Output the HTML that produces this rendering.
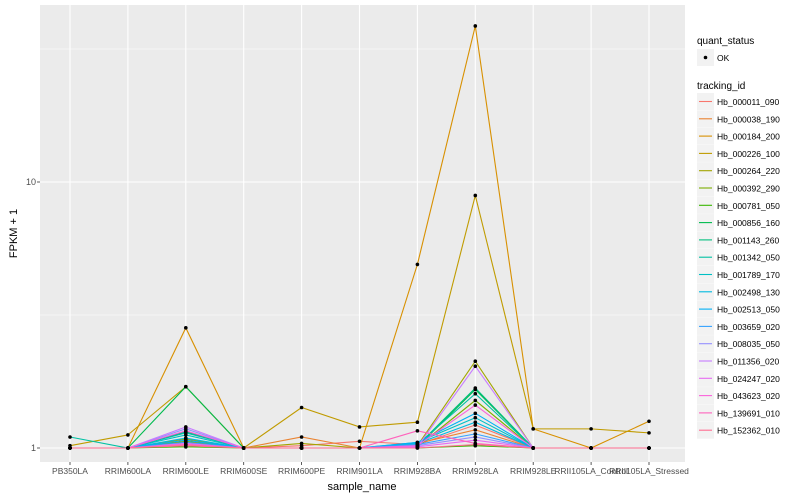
<!DOCTYPE html>
<html><head><meta charset="utf-8"><style>
body{margin:0;background:#fff;font-family:"Liberation Sans",sans-serif;}
svg{display:block}
</style></head><body>
<svg id="chart" width="800" height="500" xmlns="http://www.w3.org/2000/svg" font-family="Liberation Sans, sans-serif"></svg>
<script>
const categories=["PB350LA","RRIM600LA","RRIM600LE","RRIM600SE","RRIM600PE","RRIM901LA","RRIM928BA","RRIM928LA","RRIM928LE","RRII105LA_Control","RRII105LA_Stressed"];
const trackingIds=["Hb_000011_090","Hb_000038_190","Hb_000184_200","Hb_000226_100","Hb_000264_220","Hb_000392_290","Hb_000781_050","Hb_000856_160","Hb_001143_260","Hb_001342_050","Hb_001789_170","Hb_002498_130","Hb_002513_050","Hb_003659_020","Hb_008035_050","Hb_011356_020","Hb_024247_020","Hb_043623_020","Hb_139691_010","Hb_152362_010"];
const seriesColors=["#F8766D","#EA8331","#D89000","#C09B00","#A3A500","#7CAE00","#39B600","#00BB4E","#00BF7D","#00C1A3","#00BFC4","#00BAE0","#00B0F6","#35A2FF","#9590FF","#C77CFF","#E76BF3","#FA62DB","#FF62BC","#FF6C91"];
const s01=[1,1,1.03,1,1.02,1.06,1.03,1.22,1,1,1];
const s02=[1,1,1.05,1,1.1,1,1.04,1.17,1,1,1];
const s03=[1,1,2.83,1,1,1,4.9,38.6,1.18,1,1.26];
const s04=[1.02,1.12,1.7,1,1.42,1.2,1.25,8.9,1.18,1.18,1.14];
const s05=[1,1,1.08,1,1.04,1,1.02,2.12,1,1,1];
const s06=[1,1,1.06,1,1,1,1.01,1.51,1,1,1];
const s07=[1,1,1.01,1,1,1,1,1.02,1,1,1];
const s08=[1,1,1.7,1,1,1,1.01,1.66,1,1,1];
const s09=[1,1,1.15,1,1,1,1.02,1.68,1,1,1];
const s10=[1.1,1,1.14,1,1,1,1.03,1.6,1,1,1];
const s11=[1,1,1.12,1,1,1,1.05,1.3,1,1,1];
const s12=[1,1,1.09,1,1,1,1.04,1.25,1,1,1];
const s13=[1,1,1.07,1,1,1,1.05,1.35,1,1,1];
const s14=[1,1,1.05,1,1,1,1.03,1.13,1,1,1];
const s15=[1,1,1.18,1,1,1,1.02,1.1,1,1,1];
const s16=[1,1,1.2,1,1,1,1.01,2.03,1,1,1];
const s17=[1,1,1.04,1,1,1,1.01,1.07,1,1,1];
const s18=[1,1,1.16,1,1,1,1.02,1.45,1,1,1];
const s19=[1,1,1.03,1,1,1,1.16,1.04,1,1,1];
const s20=[1,1,1.02,1,1,1,1,1.03,1,1,1];
const seriesValues=[s01,s02,s03,s04,s05,s06,s07,s08,s09,s10,s11,s12,s13,s14,s15,s16,s17,s18,s19,s20];
const yTicks=[1,10];
const yTickLabels=["1","10"];

const NS="http://www.w3.org/2000/svg";
const svg=document.getElementById('chart');
const P={l:40,r:685,t:5,b:462};
const xStep=57.9;
function xPos(i){return 70+xStep*i;}
function yPos(v){return 448-266*Math.log10(v);}
function mk(tag,attrs,parent){const e=document.createElementNS(NS,tag);for(const k in attrs)e.setAttribute(k,attrs[k]);(parent||svg).appendChild(e);return e;}

const panel=mk('rect',{x:P.l,y:P.t,width:P.r-P.l,height:P.b-P.t,fill:'#EBEBEB'});


[Math.sqrt(10),Math.pow(10,1.5)].forEach(v=>{
  const g=mk('line',{x1:P.l,x2:P.r,y1:yPos(v),y2:yPos(v),stroke:'#fff','stroke-width':0.5});
  
  
});
yTicks.forEach((v,i)=>{
  const g=mk('line',{x1:P.l,x2:P.r,y1:yPos(v),y2:yPos(v),stroke:'#fff','stroke-width':1.1});
  
  
  const t=mk('text',{x:P.l-4,y:yPos(v)+3,'text-anchor':'end','font-size':9,fill:'#4D4D4D'});
  t.textContent=yTickLabels[i];
  
  
  mk('line',{x1:P.l-3,x2:P.l,y1:yPos(v),y2:yPos(v),stroke:'#333','stroke-width':0.8});
});
categories.forEach((c,i)=>{
  const g=mk('line',{x1:xPos(i),x2:xPos(i),y1:P.t,y2:P.b,stroke:'#fff','stroke-width':1.1});
  
  
  mk('line',{x1:xPos(i),x2:xPos(i),y1:P.b,y2:P.b+3,stroke:'#333','stroke-width':0.8});
  const t=mk('text',{x:xPos(i),y:P.b+12,'text-anchor':'middle','font-size':8.5,fill:'#4D4D4D'});
  t.textContent=c;
  
  
});
seriesValues.forEach((vals,si)=>{
  const pts=vals.map((v,i)=>xPos(i)+','+yPos(v)).join(' ');
  const l=mk('polyline',{points:pts,fill:'none',stroke:seriesColors[si],'stroke-width':1.1});
  
  
});
seriesValues.forEach((vals,si)=>{
  vals.forEach((v,i)=>{
    const c=mk('circle',{cx:xPos(i),cy:yPos(v),r:1.8,fill:'#000'});
    
    
  });
});
const xt=mk('text',{x:362,y:490,'text-anchor':'middle','font-size':11,fill:'#000'});
xt.textContent='sample_name';


const yt=mk('text',{x:17,y:(P.t+P.b)/2,'text-anchor':'middle','font-size':11,fill:'#000',transform:'rotate(-90 17 '+((P.t+P.b)/2)+')'});
yt.textContent='FPKM + 1';


const lt1=mk('text',{x:697,y:44,'font-size':10,fill:'#000'});
lt1.textContent='quant_status';


mk('rect',{x:697,y:49,width:17,height:17,fill:'#F2F2F2'});
mk('circle',{cx:705.5,cy:57.5,r:1.8,fill:'#000'});
const ok=mk('text',{x:717,y:61,'font-size':8.5,fill:'#000'});
ok.textContent='OK';


const lt2=mk('text',{x:697,y:89,'font-size':10,fill:'#000'});
lt2.textContent='tracking_id';


trackingIds.forEach((id,i)=>{
  const y=93+i*17.3;
  const g=mk('g',{});
  
  
  mk('rect',{x:697,y:y,width:17,height:17,fill:'#F2F2F2'},g);
  mk('line',{x1:699,x2:712,y1:y+8.5,y2:y+8.5,stroke:seriesColors[i],'stroke-width':1.1},g);
  const t=mk('text',{x:717,y:y+12,'font-size':8.5,fill:'#000'},g);
  t.textContent=id;
});
</script>
</body></html>
